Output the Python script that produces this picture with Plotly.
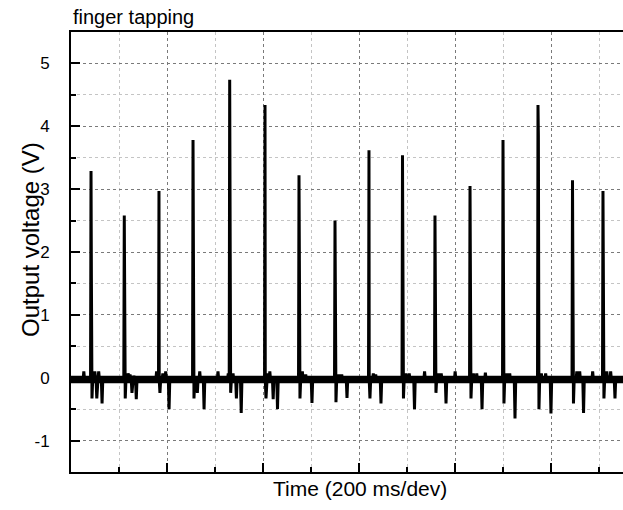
import plotly.graph_objects as go

# ---- data ----
peak_t = [0.0417, 0.1110, 0.1833, 0.2542, 0.3306, 0.4042, 0.4750, 0.5500,
          0.6208, 0.6906, 0.7583, 0.8313, 0.9000, 0.9729, 1.0448, 1.1083]   # s
peak_v = [3.29, 2.58, 2.97, 3.78, 4.74, 4.34, 3.22, 2.50,
          3.62, 3.54, 2.58, 3.05, 3.78, 4.34, 3.14, 2.97]                   # V
second_v = [1.60, None, None, 3.29, None, None, 1.87, 2.09,
            None, None, None, 2.60, None, 3.85, None, None]                 # V
# (offset ms, V) wiggles around each tap
wiggles = [
    [(-15, 0.10), (2, -0.33), (8, 0.10), (12, -0.33), (16, 0.10), (23, -0.41)],
    [(2, -0.33), (8, 0.07), (12, 0.05), (16, -0.24), (20, 0.03), (25, -0.34)],
    [(-5, 0.10), (2, -0.24), (8, 0.07), (14, 0.10), (21, -0.50)],
    [(2, -0.33), (9, -0.24), (14, 0.10), (23, -0.50), (52, 0.10)],
    [(-3, 0.07), (2, -0.24), (7, 0.07), (14, -0.33), (24, -0.56)],
    [(2, -0.33), (5, 0.07), (10, 0.10), (17, -0.34), (26, -0.50)],
    [(2, -0.33), (7, 0.10), (14, 0.05), (27, -0.40)],
    [(2, -0.39), (8, 0.05), (14, 0.05), (25, -0.32)],
    [(2, -0.33), (9, 0.07), (14, 0.05), (25, -0.41)],
    [(2, -0.33), (7, 0.07), (14, 0.07), (25, -0.50), (46, 0.10)],
    [(2, -0.24), (7, 0.07), (13, 0.07), (23, -0.41), (42, 0.10)],
    [(2, -0.33), (7, 0.07), (14, 0.07), (25, -0.50), (32, 0.08)],
    [(2, -0.41), (8, 0.07), (14, 0.07), (25, -0.65)],
    [(2, -0.50), (7, 0.07), (16, 0.07), (27, -0.57)],
    [(2, -0.41), (9, 0.10), (15, 0.10), (23, -0.56), (42, 0.10)],
    [(2, -0.33), (8, 0.10), (16, 0.10), (25, -0.33)],
]
baseline_v = -0.03
x_range = [0, 1.15]
y_range = [-1.5, 5.5]
ytick_vals = [-1, 0, 1, 2, 3, 4, 5]
ytick_text = ["-1", "0", "1", "2", "3", "4", "5"]

# ---- build the trace ----
pts = [(x_range[0], baseline_v), (x_range[1], baseline_v)]
for t, pv, sv, wg in zip(peak_t, peak_v, second_v, wiggles):
    pts.append((t - 0.001, baseline_v))
    pts.append((t, pv))
    if sv is not None:
        pts.append((t + 0.0008, sv))
    for dt, v in wg:
        tt = t + dt / 1000.0
        pts.append((tt - 0.0015, baseline_v))
        pts.append((tt, v))
        pts.append((tt + 0.0015, baseline_v))
pts.sort(key=lambda p: p[0])
xs = [p[0] for p in pts]
ys = [p[1] for p in pts]

fig = go.Figure()
fig.add_trace(go.Scatter(x=x_range, y=[baseline_v, baseline_v], mode="lines",
                         line=dict(color="black", width=7.5), hoverinfo="skip"))
fig.add_trace(go.Scatter(x=xs, y=ys, mode="lines",
                         line=dict(color="black", width=3)))

font = "Arial, Liberation Sans, sans-serif"
fig.update_layout(
    width=623, height=510,
    margin=dict(l=71, r=0, t=32, b=38),
    paper_bgcolor="white", plot_bgcolor="white",
    showlegend=False,
    font=dict(family=font, color="black"),
)
fig.update_xaxes(
    range=x_range, showticklabels=False,
    tick0=0, dtick=0.2, ticks="inside", ticklen=9, tickwidth=2, tickcolor="black",
    showgrid=True, gridcolor="#7a7a7a", griddash="dot", gridwidth=1,
    minor=dict(dtick=0.1, ticks="inside", ticklen=5, tickwidth=1.5, tickcolor="black",
               showgrid=True, gridcolor="#c4c4c4", griddash="dot", gridwidth=1),
    showline=True, linecolor="black", linewidth=2, mirror=True, zeroline=False,
)
fig.update_yaxes(
    range=y_range, tickvals=ytick_vals, ticktext=ytick_text,
    ticks="inside", ticklen=9, tickwidth=2, tickcolor="black",
    tickfont=dict(size=17, family=font, color="black"), ticklabelstandoff=16,
    showgrid=True, gridcolor="#7a7a7a", griddash="dot", gridwidth=1,
    minor=dict(dtick=0.5, tick0=0, ticks="inside", ticklen=5, tickwidth=1.5, tickcolor="black",
               showgrid=True, gridcolor="#c4c4c4", griddash="dot", gridwidth=1),
    showline=True, linecolor="black", linewidth=2, mirror=False, zeroline=False,
)
fig.add_annotation(text="finger tapping", xref="paper", yref="paper", x=0, y=1,
                   xanchor="left", yanchor="bottom", yshift=2, showarrow=False,
                   font=dict(size=20, family=font, color="black"))
fig.add_annotation(text="Time (200 ms/dev)", xref="paper", yref="paper",
                   x=(360 - 71) / 552, y=0, yshift=-3, xanchor="center", yanchor="top",
                   showarrow=False, font=dict(size=21, family=font, color="black"))
fig.add_annotation(text="Output voltage (V)", xref="paper", yref="paper",
                   x=0, xshift=-41, y=(472 - 240) / 440, xanchor="center", yanchor="middle",
                   textangle=-90, showarrow=False, font=dict(size=24, family=font, color="black"))

fig.write_html("out.html", config={"displayModeBar": False},
               post_script="document.body.style.margin='0';document.body.style.overflow='hidden';")
